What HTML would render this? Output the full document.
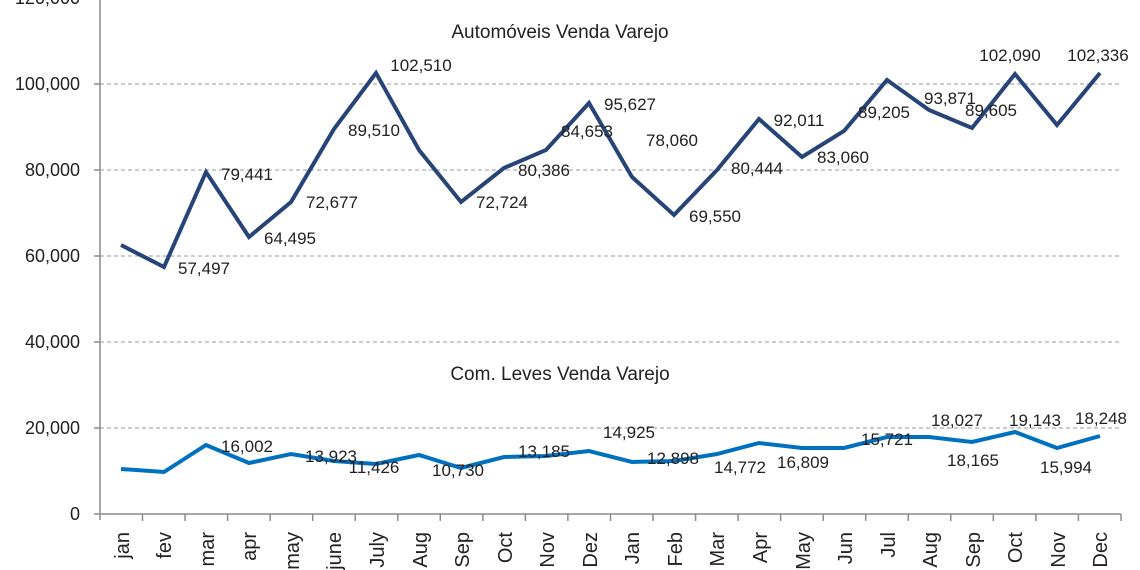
<!DOCTYPE html>
<html><head><meta charset="utf-8"><style>
html,body{margin:0;padding:0;background:#fff;}
svg{display:block;font-family:"Liberation Sans",sans-serif;}
</style></head><body>
<svg width="1140" height="570" viewBox="0 0 1140 570" xmlns="http://www.w3.org/2000/svg">
<g stroke="#999" stroke-width="1" stroke-dasharray="4,3">
<line x1="100" y1="84" x2="1121" y2="84"/>
<line x1="100" y1="170" x2="1121" y2="170"/>
<line x1="100" y1="256" x2="1121" y2="256"/>
<line x1="100" y1="342" x2="1121" y2="342"/>
<line x1="100" y1="428" x2="1121" y2="428"/>
</g>
<g stroke="#8c8c8c" stroke-width="1.5">
<line x1="100" y1="0" x2="100" y2="520"/>
<line x1="94" y1="514" x2="1121" y2="514"/>
<line x1="94" y1="428" x2="100" y2="428"/><line x1="94" y1="342" x2="100" y2="342"/><line x1="94" y1="256" x2="100" y2="256"/><line x1="94" y1="170" x2="100" y2="170"/><line x1="94" y1="84" x2="100" y2="84"/>
<path d="M142.5 514v7M185.1 514v7M227.6 514v7M270.2 514v7M312.7 514v7M355.2 514v7M397.8 514v7M440.3 514v7M482.9 514v7M525.4 514v7M567.9 514v7M610.5 514v7M653 514v7M695.6 514v7M738.1 514v7M780.6 514v7M823.2 514v7M865.7 514v7M908.3 514v7M950.8 514v7M993.3 514v7M1035.9 514v7M1078.4 514v7M1121 514v7"/>
</g>
<g font-size="18" fill="#222" text-anchor="end">
<text x="80" y="520">0</text>
<text x="80" y="434">20,000</text>
<text x="80" y="348">40,000</text>
<text x="80" y="262">60,000</text>
<text x="80" y="176">80,000</text>
<text x="80" y="90">100,000</text>
<text x="80" y="4">120,000</text>
</g>
<polyline fill="none" stroke="#264478" stroke-width="4" stroke-linejoin="miter" points="121,245 164,267 206,172 249,237 291,202 334,129 376,73 419,150 461,202 504,168 546,150 589,103 632,177 674,215 717,170 759,119 802,157 844,131 887,80 929,110 972,128 1015,74 1057,125 1100,73"/>
<polyline fill="none" stroke="#0070c0" stroke-width="4" points="121,469 164,472 206,445 249,463 291,454 334,461 376,464 419,455 461,468 504,457 546,456 589,451 632,462 674,461 717,454 759,443 802,448 844,448 887,437 929,437 972,442 1015,432 1057,448 1100,436"/>
<g font-size="17" fill="#222" text-anchor="middle">
<text x="560" y="38" font-size="19">Automóveis Venda Varejo</text>
<text x="560" y="380" font-size="19">Com. Leves Venda Varejo</text>
<text x="204" y="274">57,497</text>
<text x="247" y="180">79,441</text>
<text x="290" y="244">64,495</text>
<text x="332" y="208">72,677</text>
<text x="374" y="136">89,510</text>
<text x="421" y="71">102,510</text>
<text x="502" y="208">72,724</text>
<text x="544" y="176">80,386</text>
<text x="587" y="137">84,653</text>
<text x="630" y="110">95,627</text>
<text x="672" y="146">78,060</text>
<text x="715" y="222">69,550</text>
<text x="757" y="174">80,444</text>
<text x="799" y="126">92,011</text>
<text x="843" y="163">83,060</text>
<text x="884" y="118">89,205</text>
<text x="950" y="104">93,871</text>
<text x="991" y="116">89,605</text>
<text x="1010" y="61">102,090</text>
<text x="1098" y="61">102,336</text>
<text x="247" y="452">16,002</text>
<text x="331" y="462">13,923</text>
<text x="374" y="473">11,426</text>
<text x="458" y="476">10,730</text>
<text x="544" y="457">13,185</text>
<text x="629" y="438">14,925</text>
<text x="673" y="464">12,898</text>
<text x="740" y="473">14,772</text>
<text x="803" y="468">16,809</text>
<text x="887" y="445">15,721</text>
<text x="957" y="426">18,027</text>
<text x="973" y="466">18,165</text>
<text x="1035" y="426">19,143</text>
<text x="1066" y="473">15,994</text>
<text x="1101" y="424">18,248</text>
</g>
<g font-size="20" fill="#222" text-anchor="end">
<text transform="translate(129,532) rotate(-90)">jan</text>
<text transform="translate(171,532) rotate(-90)">fev</text>
<text transform="translate(214,532) rotate(-90)">mar</text>
<text transform="translate(256,532) rotate(-90)">apr</text>
<text transform="translate(299,532) rotate(-90)">may</text>
<text transform="translate(341,532) rotate(-90)">june</text>
<text transform="translate(384,532) rotate(-90)">July</text>
<text transform="translate(427,532) rotate(-90)">Aug</text>
<text transform="translate(469,532) rotate(-90)">Sep</text>
<text transform="translate(512,532) rotate(-90)">Oct</text>
<text transform="translate(554,532) rotate(-90)">Nov</text>
<text transform="translate(597,532) rotate(-90)">Dez</text>
<text transform="translate(639,532) rotate(-90)">Jan</text>
<text transform="translate(682,532) rotate(-90)">Feb</text>
<text transform="translate(724,532) rotate(-90)">Mar</text>
<text transform="translate(767,532) rotate(-90)">Apr</text>
<text transform="translate(810,532) rotate(-90)">May</text>
<text transform="translate(852,532) rotate(-90)">Jun</text>
<text transform="translate(895,532) rotate(-90)">Jul</text>
<text transform="translate(937,532) rotate(-90)">Aug</text>
<text transform="translate(980,532) rotate(-90)">Sep</text>
<text transform="translate(1022,532) rotate(-90)">Oct</text>
<text transform="translate(1065,532) rotate(-90)">Nov</text>
<text transform="translate(1107,532) rotate(-90)">Dec</text>
</g>
</svg>
</body></html>
